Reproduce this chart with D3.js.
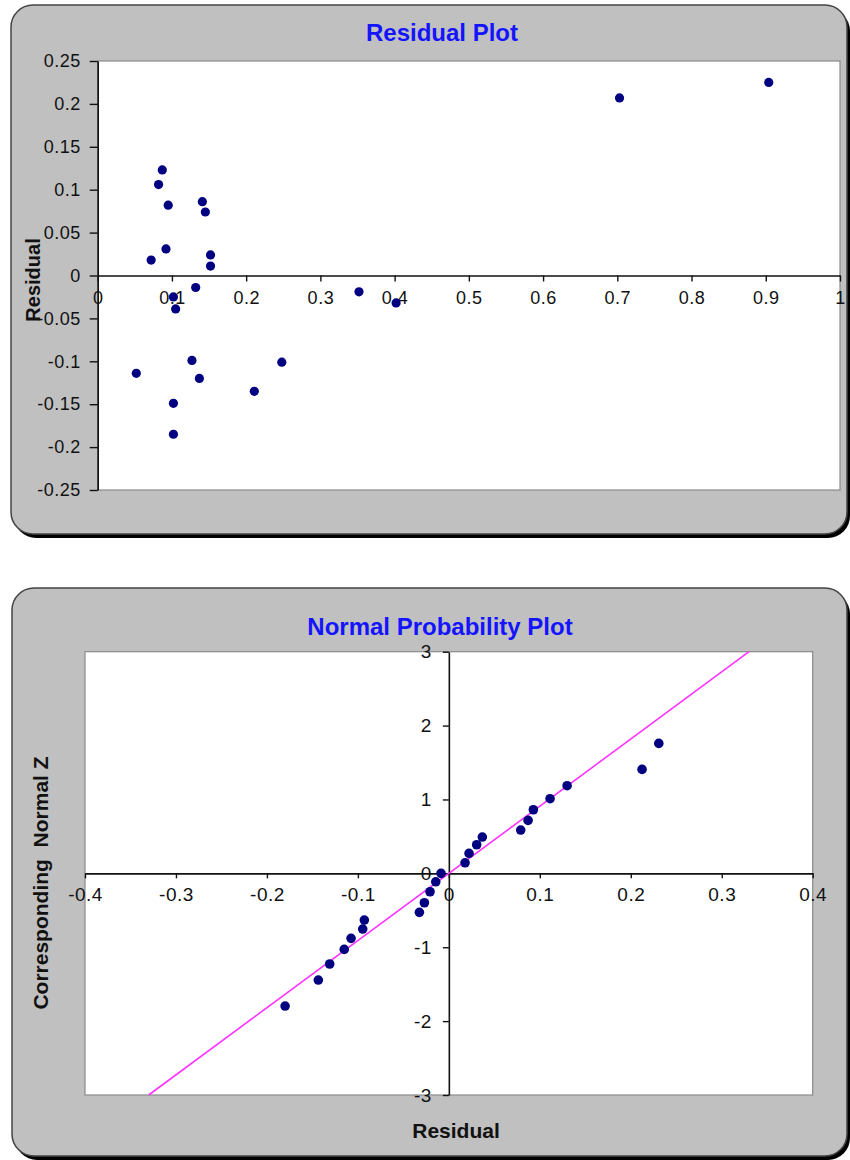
<!DOCTYPE html>
<html>
<head>
<meta charset="utf-8">
<script src="https://cdn.jsdelivr.net/npm/d3@7"></script>
<style>
  body { margin: 0; background: #fff; }
  svg { display: block; }
  text { font-family: Arial, "Liberation Sans", sans-serif; }
</style>
</head>
<body>
<svg id="chart" width="850" height="1160"></svg>
<script>
// Residual plot: predicted value vs residual
const predicted = [0.087, 0.082, 0.095, 0.141, 0.145, 0.092, 0.072, 0.152, 0.152, 0.132, 0.352,
  0.102, 0.105, 0.402, 0.127, 0.248, 0.052, 0.137, 0.211, 0.102, 0.102, 0.703, 0.904];
const residuals = [0.123, 0.106, 0.082, 0.086, 0.074, 0.031, 0.018, 0.024, 0.011, -0.014, -0.019,
  -0.025, -0.039, -0.032, -0.099, -0.101, -0.114, -0.120, -0.135, -0.149, -0.185, 0.207, 0.225];

// Normal probability plot: sorted residual vs normal score
const sortedResiduals = [-0.180, -0.1435, -0.131, -0.115, -0.1075, -0.0947, -0.0929, -0.0324, -0.0269,
  -0.0207, -0.0144, -0.0086, 0.0178, 0.0222, 0.0306, 0.0368, 0.079, 0.0871, 0.0929, 0.1113, 0.130, 0.2124, 0.2308];
const normalZ = [-1.796, -1.444, -1.227, -1.029, -0.880, -0.754, -0.632, -0.528, -0.398,
  -0.249, -0.114, 0, 0.143, 0.27, 0.387, 0.491, 0.586, 0.717, 0.861, 1.01, 1.186, 1.407, 1.759];
const refLineX = [-0.33, 0.33];
const refLineZ = [-3, 3];

const residXTicks = [0, 0.1, 0.2, 0.3, 0.4, 0.5, 0.6, 0.7, 0.8, 0.9, 1];
const residYTicks = [-0.25, -0.2, -0.15, -0.1, -0.05, 0, 0.05, 0.1, 0.15, 0.2, 0.25];
const normXTicks = [-0.4, -0.3, -0.2, -0.1, 0, 0.1, 0.2, 0.3, 0.4];
const normYTicks = [-3, -2, -1, 0, 1, 2, 3];

const svg = d3.select('#chart');
const fmt = d => String(+d.toFixed(2));

function drawPanel(x, y, w, h) {
  svg.append('rect').attr('x', x + 3).attr('y', y + 4).attr('width', w).attr('height', h)
    .attr('rx', 22).attr('fill', '#000');
  svg.append('rect').attr('x', x).attr('y', y).attr('width', w).attr('height', h)
    .attr('rx', 22).attr('fill', '#c0c0c0').attr('stroke', '#444').attr('stroke-width', 1.5);
}

function styleAxis(g, size) {
  g.select('.domain').attr('stroke', '#111').attr('stroke-width', 1.6);
  g.selectAll('.tick line').attr('stroke', '#111').attr('stroke-width', 1.4);
  g.selectAll('.tick text').attr('fill', '#111').attr('font-size', size + 'px')
    .attr('letter-spacing', '0.5px')
    .attr('font-family', 'Arial, "Liberation Sans", sans-serif');
}

function plotArea(x0, y0, x1, y1) {
  svg.append('rect').attr('x', x0).attr('y', y0).attr('width', x1 - x0).attr('height', y1 - y0)
    .attr('fill', '#fff').attr('stroke', '#8a8a8a').attr('stroke-width', 1.2);
}

// ---- Residual Plot ----
drawPanel(11, 5, 836, 529);
const r = { left: 97.7, right: 840, top: 61, bottom: 490 };
plotArea(r.left, r.top, r.right, r.bottom);
const rx = d3.scaleLinear().domain([0, 1]).range([r.left, r.right]);
const ry = d3.scaleLinear().domain([-0.25, 0.25]).range([r.bottom, r.top]);

svg.append('text').attr('x', 442).attr('y', 41).attr('text-anchor', 'middle')
  .attr('font-size', '24px').attr('font-weight', 'bold').attr('fill', '#1414ff').text('Residual Plot');

const ryAxis = svg.append('g').attr('transform', `translate(${r.left},0)`)
  .call(d3.axisLeft(ry).tickValues(residYTicks).tickFormat(fmt).tickSize(8).tickSizeOuter(0).tickPadding(9));
styleAxis(ryAxis, 18);
const rxAxis = svg.append('g').attr('transform', `translate(0,${ry(0)})`)
  .call(d3.axisBottom(rx).tickValues(residXTicks).tickFormat(fmt).tickSize(6).tickSizeOuter(0).tickPadding(10));
styleAxis(rxAxis, 18);

svg.append('text').attr('transform', 'translate(40,280) rotate(-90)').attr('text-anchor', 'middle')
  .attr('font-size', '20px').attr('font-weight', 'bold').attr('fill', '#111').text('Residual');

svg.append('g').selectAll('circle').data(predicted).join('circle')
  .attr('cx', d => rx(d)).attr('cy', (d, i) => ry(residuals[i])).attr('r', 4.6).attr('fill', '#000080');

// ---- Normal Probability Plot ----
drawPanel(12, 588, 835, 568);
const n = { left: 85, right: 812.7, top: 651.7, bottom: 1095 };
plotArea(n.left, n.top, n.right, n.bottom);
const nx = d3.scaleLinear().domain([-0.4, 0.4]).range([n.left, n.right]);
const ny = d3.scaleLinear().domain([-3, 3]).range([n.bottom, n.top]);

svg.append('text').attr('x', 440).attr('y', 635).attr('text-anchor', 'middle')
  .attr('font-size', '24px').attr('font-weight', 'bold').attr('fill', '#1414ff').text('Normal Probability Plot');

const nyAxis = svg.append('g').attr('transform', `translate(${nx(0)},0)`)
  .call(d3.axisLeft(ny).tickValues(normYTicks).tickFormat(fmt).tickSize(6).tickSizeOuter(0).tickPadding(11));
styleAxis(nyAxis, 19);
const nxAxis = svg.append('g').attr('transform', `translate(0,${ny(0)})`)
  .call(d3.axisBottom(nx).tickValues(normXTicks).tickFormat(fmt).tickSize(5).tickSizeOuter(0).tickPadding(9));
styleAxis(nxAxis, 19);

svg.append('line')
  .attr('x1', nx(refLineX[0])).attr('y1', ny(refLineZ[0]))
  .attr('x2', nx(refLineX[1])).attr('y2', ny(refLineZ[1]))
  .attr('stroke', '#ff33ff').attr('stroke-width', 1.6);

svg.append('g').selectAll('circle').data(sortedResiduals).join('circle')
  .attr('cx', d => nx(d)).attr('cy', (d, i) => ny(normalZ[i])).attr('r', 4.8).attr('fill', '#000080');

svg.append('text').attr('x', 456).attr('y', 1138).attr('text-anchor', 'middle')
  .attr('font-size', '21px').attr('font-weight', 'bold').attr('fill', '#111').text('Residual');
svg.append('text').attr('transform', 'translate(48,883) rotate(-90)').attr('text-anchor', 'middle')
  .attr('font-size', '21px').attr('font-weight', 'bold').attr('fill', '#111')
  .style('white-space', 'pre').text('Corresponding  Normal Z');
</script>
</body>
</html>
